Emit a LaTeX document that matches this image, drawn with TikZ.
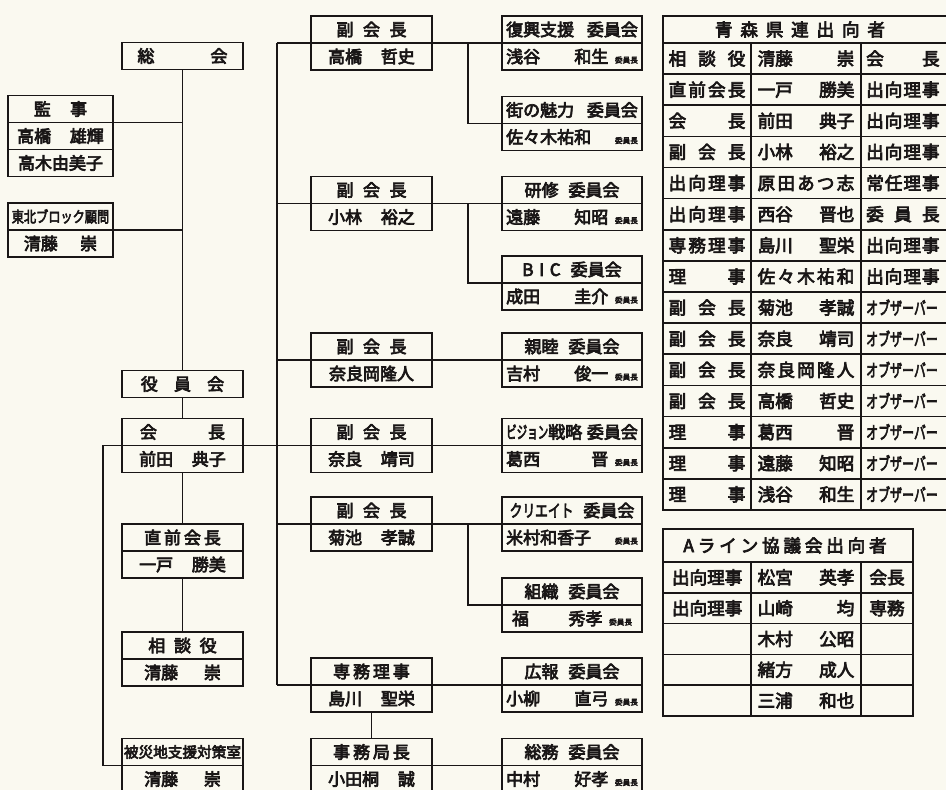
\documentclass[tikz,border=0pt]{standalone}
\usepackage{fontspec}
\setmainfont{Noto Sans CJK JP}[AutoFakeBold=4]
\usetikzlibrary{positioning}

\definecolor{paper}{RGB}{250,249,240}
\definecolor{ink}{RGB}{25,22,22}

\newcommand{\spreadbox}[2]{\makebox[#1][s]{#2}}
\newcommand{\condense}[2]{\scalebox{#1}[1]{#2}}
\newcommand{\chair}{{\fontsize{6.5}{7}\selectfont 委員長}}

\begin{document}
\begin{tikzpicture}[x=0.03cm, y=-0.03cm,
    cell/.style={draw=ink, text=ink, line width=1.4pt, inner sep=0pt, outer sep=0pt,
      minimum height=0.81cm, font=\bfseries\fontsize{14.5}{14.5}\selectfont},
    sbox/.style={cell, minimum width=3.15cm},
    lbox/.style={cell, minimum width=3.63cm},
    rbox/.style={cell, minimum width=4.2cm},
    link/.style={draw=ink, line width=1.2pt},
    tline/.style={draw=ink, line width=1.4pt},
    ttext/.style={text=ink, inner sep=0pt, font=\bfseries\fontsize{15}{15}\selectfont}]

        \useasboundingbox (0,0) rectangle (946,790);
        \fill[paper] (0,0) rectangle (946,790);
        \clip (0,0) rectangle (946,790);

        % left column: assembly, auditors, president line
        \node[lbox] (sokai) at (182.5,56) {\spreadbox{2.7cm}{総\hfill 会}};
        \node[sbox] (kanji) at (60.5,109) {\spreadbox{1.6cm}{監\hfill 事}};
        \node[sbox, below=0pt of kanji] (kanji1) {\spreadbox{2.6cm}{高橋\hfill 雄輝}};
        \node[sbox, below=0pt of kanji1] (kanji2) {高木由美子};
        \node[sbox, font=\bfseries\fontsize{13}{13}\selectfont] (tohoku) at (60.5,216.5) {\condense{0.8}{東北ブロック顧問}};
        \node[sbox, below=0pt of tohoku] (tohoku1) {\spreadbox{2.2cm}{清藤\hfill 崇}};

        \node[lbox] (yakuin) at (182.5,384) {\spreadbox{2.5cm}{役\hfill 員\hfill 会}};
        \node[lbox] (kaicho) at (182.5,432) {\spreadbox{2.55cm}{会\hfill 長}};
        \node[lbox, below=0pt of kaicho] (kaicho1) {\spreadbox{2.6cm}{前田\hfill 典子}};
        \node[lbox] (chokuzen) at (182.5,537.5) {\spreadbox{2.3cm}{直\hfill 前\hfill 会\hfill 長}};
        \node[lbox, below=0pt of chokuzen] (chokuzen1) {\spreadbox{2.6cm}{一戸\hfill 勝美}};
        \node[lbox] (sodan) at (182.5,645.5) {\spreadbox{2.05cm}{相\hfill 談\hfill 役}};
        \node[lbox, below=0pt of sodan] (sodan1) {\spreadbox{2.3cm}{清藤\hfill 崇}};
        \node[lbox, font=\bfseries\fontsize{12.5}{12.5}\selectfont] (hisai) at (182.5,752) {被災地支援対策室};
        \node[lbox, below=0pt of hisai] (hisai1) {\spreadbox{2.3cm}{清藤\hfill 崇}};

        % middle column: vice presidents and secretariat
        \node[lbox] (fuku1) at (371.5,29.5) {\spreadbox{2.1cm}{副\hfill 会\hfill 長}};
        \node[lbox, below=0pt of fuku1] (fuku1n) {\spreadbox{2.6cm}{高橋\hfill 哲史}};
        \node[lbox] (fuku2) at (371.5,190) {\spreadbox{2.1cm}{副\hfill 会\hfill 長}};
        \node[lbox, below=0pt of fuku2] (fuku2n) {\spreadbox{2.6cm}{小林\hfill 裕之}};
        \node[lbox] (fuku3) at (371.5,346.5) {\spreadbox{2.1cm}{副\hfill 会\hfill 長}};
        \node[lbox, below=0pt of fuku3] (fuku3n) {奈良岡隆人};
        \node[lbox] (fuku4) at (371.5,432) {\spreadbox{2.1cm}{副\hfill 会\hfill 長}};
        \node[lbox, below=0pt of fuku4] (fuku4n) {\spreadbox{2.6cm}{奈良\hfill 靖司}};
        \node[lbox] (fuku5) at (371.5,510.5) {\spreadbox{2.1cm}{副\hfill 会\hfill 長}};
        \node[lbox, below=0pt of fuku5] (fuku5n) {\spreadbox{2.6cm}{菊池\hfill 孝誠}};
        \node[lbox] (senmu) at (371.5,671.5) {\spreadbox{2.3cm}{専\hfill 務\hfill 理\hfill 事}};
        \node[lbox, below=0pt of senmu] (senmu1) {\spreadbox{2.6cm}{島川\hfill 聖栄}};
        \node[lbox] (jimu) at (371.5,752) {\spreadbox{2.3cm}{事\hfill 務\hfill 局\hfill 長}};
        \node[lbox, below=0pt of jimu] (jimu1) {\spreadbox{2.6cm}{小田桐\hfill 誠}};

        % committees
        \node[rbox] (iin1) at (572,29.5) {\spreadbox{3.95cm}{復興支援\hfill 委員会}};
        \node[rbox, below=0pt of iin1] (iin1n) {\spreadbox{3.95cm}{浅谷\hfill 和生\hspace{0.2cm}\chair}};
        \node[rbox] (iin2) at (572,110) {\spreadbox{3.95cm}{街の魅力\hfill 委員会}};
        \node[rbox, below=0pt of iin2] (iin2n) {\spreadbox{3.95cm}{佐々木祐和\hfill\chair}};
        \node[rbox] (iin3) at (572,190) {研修\hspace{0.3cm}委員会};
        \node[rbox, below=0pt of iin3] (iin3n) {\spreadbox{3.95cm}{遠藤\hfill 知昭\hspace{0.2cm}\chair}};
        \node[rbox] (iin4) at (572,269.5) {B\,\,I\,\,C\hspace{0.3cm}委員会};
        \node[rbox, below=0pt of iin4] (iin4n) {\spreadbox{3.95cm}{成田\hfill 圭介\hspace{0.2cm}\chair}};
        \node[rbox] (iin5) at (572,346.5) {親睦\hspace{0.3cm}委員会};
        \node[rbox, below=0pt of iin5] (iin5n) {\spreadbox{3.95cm}{吉村\hfill 俊一\hspace{0.2cm}\chair}};
        \node[rbox] (iin6) at (572,432) {\spreadbox{3.95cm}{\condense{0.62}{ビジョン}戦略\hfill 委員会}};
        \node[rbox, below=0pt of iin6] (iin6n) {\spreadbox{3.95cm}{葛西\hfill 晋\hspace{0.2cm}\chair}};
        \node[rbox] (iin7) at (572,510.5) {\condense{0.75}{クリエイト}\hspace{0.3cm}委員会};
        \node[rbox, below=0pt of iin7] (iin7n) {\spreadbox{3.95cm}{米村和香子\hfill\chair}};
        \node[rbox] (iin8) at (572,591.5) {組織\hspace{0.3cm}委員会};
        \node[rbox, below=0pt of iin8] (iin8n) {\spreadbox{3.6cm}{福\hfill 秀孝\hspace{0.2cm}\chair}};
        \node[rbox] (iin9) at (572,671.5) {広報\hspace{0.3cm}委員会};
        \node[rbox, below=0pt of iin9] (iin9n) {\spreadbox{3.95cm}{小柳\hfill 直弓\hspace{0.2cm}\chair}};
        \node[rbox] (iin10) at (572,752) {総務\hspace{0.3cm}委員会};
        \node[rbox, below=0pt of iin10] (iin10n) {\spreadbox{3.95cm}{中村\hfill 好孝\hspace{0.2cm}\chair}};

        % connectors on the left
        \draw[link] (sokai.south) -- (yakuin.north);
        \draw[link] (yakuin.south) -- (kaicho.north);
        \draw[link] (kaicho1.south) -- (chokuzen.north);
        \draw[link] (chokuzen1.south) -- (sodan.north);
        \draw[link] (kanji.south east) -- (kanji.south east -| sokai.south);
        \draw[link] (tohoku.south east) -- (tohoku.south east -| sokai.south);
        \coordinate[left=0.57cm of kaicho.south west] (lt);
        \draw[link] (kaicho.south west) -- (lt) |- (hisai.south west);
        \draw[link] (kaicho.south east) -- (iin6.south west);

        % middle trunk and committee lines
        \coordinate[left=1.02cm of fuku1.south west] (mt);
        \draw[link] (mt) -- (mt |- senmu.south);
        \foreach \f/\c in {fuku1/iin1, fuku2/iin3, fuku3/iin5, fuku4/iin6, fuku5/iin7, senmu/iin9}
            \draw[link] (mt |- \f.south) -- (\c.south west);
        \foreach \a/\b in {iin1/iin2, iin3/iin4, iin7/iin8}
            \draw[link] ([xshift=-1.02cm]\a.south west) |- (\b.south west);
        \draw[link] (senmu1.south) -- (jimu.north);
        \draw[link] (jimu.south east) -- (iin10.south west);

        % prefectural federation table
        \draw[tline] (663,16) rectangle (960,510);
        \foreach \i in {0,...,14}
            \draw[tline] (663,43+31.13*\i) -- (960,43+31.13*\i);
        \draw[tline] (751,43) -- (751,510) (861,43) -- (861,510);
        \node[ttext] (kenren) at (800,29.5) {\spreadbox{5.1cm}{青\hfill 森\hfill 県\hfill 連\hfill 出\hfill 向\hfill 者}};
        \foreach \a/\b/\c [count=\i] in {
            相\hfill 談\hfill 役/清藤\hfill 崇/会\hfill 長,
            直\hfill 前\hfill 会\hfill 長/一戸\hfill 勝美/出\hfill 向\hfill 理\hfill 事,
            会\hfill 長/前田\hfill 典子/出\hfill 向\hfill 理\hfill 事,
            副\hfill 会\hfill 長/小林\hfill 裕之/出\hfill 向\hfill 理\hfill 事,
            出\hfill 向\hfill 理\hfill 事/原\hfill 田\hfill あ\hfill つ\hfill 志/常\hfill 任\hfill 理\hfill 事,
            出\hfill 向\hfill 理\hfill 事/西谷\hfill 晋也/委\hfill 員\hfill 長,
            専\hfill 務\hfill 理\hfill 事/島川\hfill 聖栄/出\hfill 向\hfill 理\hfill 事,
            理\hfill 事/佐\hfill 々\hfill 木\hfill 祐\hfill 和/出\hfill 向\hfill 理\hfill 事,
            副\hfill 会\hfill 長/菊池\hfill 孝誠/\condense{0.68}{オブザーバー}\hfill,
            副\hfill 会\hfill 長/奈良\hfill 靖司/\condense{0.68}{オブザーバー}\hfill,
            副\hfill 会\hfill 長/奈\hfill 良\hfill 岡\hfill 隆\hfill 人/\condense{0.68}{オブザーバー}\hfill,
            副\hfill 会\hfill 長/高橋\hfill 哲史/\condense{0.68}{オブザーバー}\hfill,
            理\hfill 事/葛西\hfill 晋/\condense{0.68}{オブザーバー}\hfill,
            理\hfill 事/遠藤\hfill 知昭/\condense{0.68}{オブザーバー}\hfill,
            理\hfill 事/浅谷\hfill 和生/\condense{0.68}{オブザーバー}\hfill}
        {
            \node[ttext] (ka\i) at (707,27.43+31.13*\i) {\spreadbox{2.3cm}{\a}};
            \node[ttext] (kb\i) at (806,27.43+31.13*\i) {\spreadbox{2.9cm}{\b}};
            \node[ttext, anchor=west] (kc\i) at (866,27.43+31.13*\i) {\spreadbox{2.2cm}{\c}};
        }

        % A-line council table
        \draw[tline] (663,529) rectangle (913,716);
        \foreach \i in {0,...,4}
            \draw[tline] (663,562+30.8*\i) -- (913,562+30.8*\i);
        \draw[tline] (751,562) -- (751,716) (861,562) -- (861,716);
        \node[ttext] (aline) at (785,545.5) {\spreadbox{6.1cm}{A\hfill ラ\hfill イ\hfill ン\hfill 協\hfill 議\hfill 会\hfill 出\hfill 向\hfill 者}};
        \foreach \a/\b/\c [count=\i] in {
            出\hfill 向\hfill 理\hfill 事/松宮\hfill 英孝/会長,
            出\hfill 向\hfill 理\hfill 事/山崎\hfill 均/専務,
            /木村\hfill 公昭/,
            /緒方\hfill 成人/,
            /三浦\hfill 和也/}
        {
            \node[ttext] (la\i) at (707,546.6+30.8*\i) {\spreadbox{2.1cm}{\a}};
            \node[ttext] (lb\i) at (806,546.6+30.8*\i) {\spreadbox{2.9cm}{\b}};
            \node[ttext] (lc\i) at (887,546.6+30.8*\i) {\c};
        }

\end{tikzpicture}
\end{document}
